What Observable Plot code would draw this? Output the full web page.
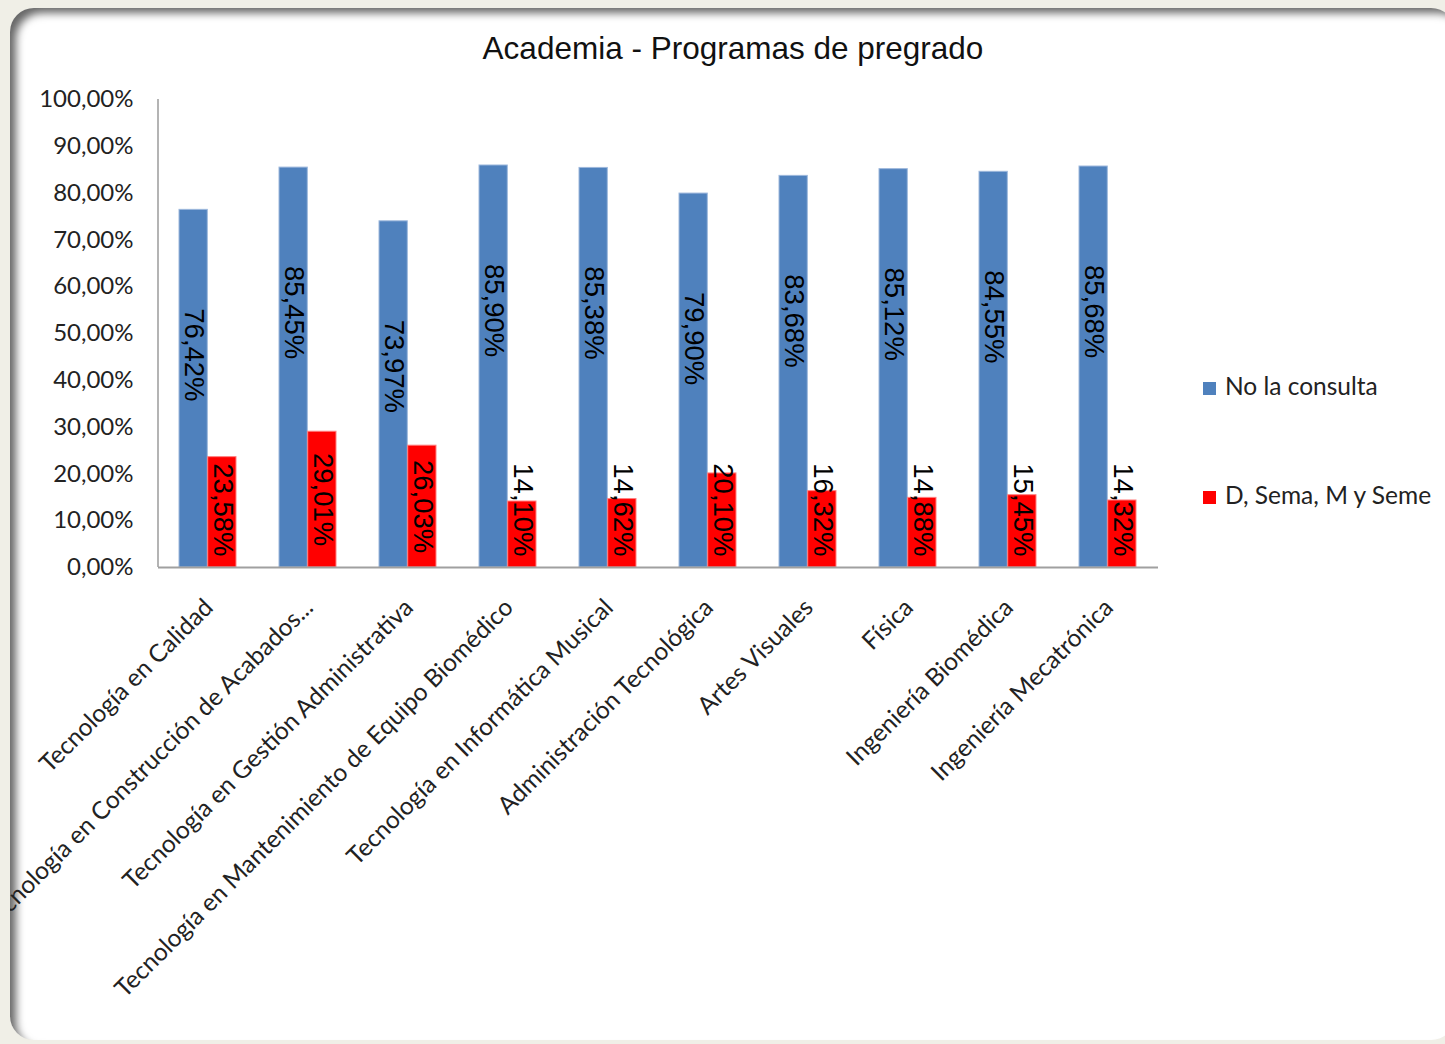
<!DOCTYPE html>
<html>
<head>
<meta charset="utf-8">
<script src="https://cdn.jsdelivr.net/npm/d3@7"></script>
<script src="https://cdn.jsdelivr.net/npm/@observablehq/plot@0.6"></script>
<style>
  html, body { margin: 0; padding: 0; width: 1445px; height: 1044px; overflow: hidden; background: #f0efe7; }
  #card {
    position: absolute; left: 10px; top: 8px; width: 1445px; height: 1032px;
    background: #ffffff; border-radius: 24px; overflow: hidden;
    box-shadow: inset 8px 7px 9px -2px rgba(0,0,0,0.6);
  }
  #chart { position: absolute; left: 0; top: 0; }
  #title {
    position: absolute; left: 0; width: 1446px; top: 22px; text-align: center;
    font-family: "Liberation Sans", Arial, sans-serif; font-size: 31.5px; color: #111;
  }
  .leg { position: absolute; left: 1193px; font-family: Lato, "Open Sans", sans-serif; font-size: 24.5px; color: #222; white-space: nowrap; }
  .leg span.sw { display: inline-block; width: 13px; height: 13px; margin-right: 9px; vertical-align: 0px; }
</style>
</head>
<body>
<div id="card">
  <div id="chart"></div>
  <div id="title">Academia - Programas de pregrado</div>
  <div class="leg" id="leg1" style="top:363px"><span class="sw" style="background:#4F81BD"></span>No la consulta</div>
  <div class="leg" id="leg2" style="top:472px"><span class="sw" style="background:#FF0000"></span>D, Sema, M y Seme</div>
</div>
<script>
const categories = [
  "Tecnología en Calidad",
  "Tecnología en Construcción de Acabados...",
  "Tecnología en Gestión Administrativa",
  "Tecnología en Mantenimiento de Equipo Biomédico",
  "Tecnología en Informática Musical",
  "Administración Tecnológica",
  "Artes Visuales",
  "Física",
  "Ingeniería Biomédica",
  "Ingeniería Mecatrónica"
];
const seriesNames = ["No la consulta", "D, Sema, M y Seme"];
const noLaConsulta = [76.42, 85.45, 73.97, 85.90, 85.38, 79.90, 83.68, 85.12, 84.55, 85.68];
const dSemaMSeme   = [23.58, 29.01, 26.03, 14.10, 14.62, 20.10, 16.32, 14.88, 15.45, 14.32];
const yTicks = [0, 10, 20, 30, 40, 50, 60, 70, 80, 90, 100];
const colors = ["#4F81BD", "#FF0000"];

const W = 1435, H = 1032;
const mL = 148, mR = 287, mT = 91, mB = 473;
const padInner = 0.426, padOuter = 0.213;
const step = (W - mL - mR) / (categories.length - padInner + 2 * padOuter);
const half = step * (1 - padInner) / 2;

const blue = categories.map((c, i) => ({cat: c, v: noLaConsulta[i]}));
const red  = categories.map((c, i) => ({cat: c, v: dSemaMSeme[i]}));
const fmt = v => v.toFixed(2).replace(".", ",") + "%";

const chart = Plot.plot({
  width: W, height: H,
  marginLeft: mL, marginRight: mR, marginTop: mT, marginBottom: mB,
  style: {background: "transparent", overflow: "visible"},
  x: {domain: categories, paddingInner: padInner, paddingOuter: padOuter, axis: null},
  y: {domain: [0, 100], axis: null},
  marks: [
    Plot.barY(blue, {x: "cat", y: "v", fill: colors[0], stroke: "#9db8dc", strokeWidth: 1, insetRight: half}),
    Plot.barY(red,  {x: "cat", y: "v", fill: colors[1], stroke: "#ff8080", strokeWidth: 1, insetLeft: half}),
    Plot.ruleX([0], {x: () => categories[0], dx: -step * padOuter - step*(1-padInner)/2, y1: 0, y2: 100, stroke: "#8c8c8c", strokeWidth: 1.3}),
    Plot.ruleY([0], {stroke: "#a0a0a0", strokeWidth: 2}),
    Plot.text(yTicks, {y: d => d, text: d => fmt(d), frameAnchor: "left", dx: -25, textAnchor: "end",
      fontFamily: "Lato, 'Open Sans', sans-serif", fontSize: 24, fill: "#222"}),
    Plot.text(categories, {x: d => d, text: d => d, frameAnchor: "bottom", dy: 36, dx: 1, rotate: -45,
      textAnchor: "end", lineAnchor: "middle", fontFamily: "Lato, 'Open Sans', sans-serif", fontSize: 24.5, fill: "#222"}),
    Plot.text(blue, {x: "cat", y: d => d.v - 31, text: d => fmt(d.v), dx: -half / 2, rotate: 90,
      textAnchor: "middle", lineAnchor: "middle", fontFamily: "'Liberation Sans', Arial, sans-serif", fontSize: 27.5, fill: "#000"}),
    Plot.text(red, {x: "cat", y: d => Math.max(d.v / 2, 12.3), text: d => fmt(d.v), dx: half / 2, rotate: 90,
      textAnchor: "middle", lineAnchor: "middle", fontFamily: "'Liberation Sans', Arial, sans-serif", fontSize: 27.5, fill: "#000"})
  ]
});
document.getElementById("chart").appendChild(chart);
</script>
</body>
</html>
